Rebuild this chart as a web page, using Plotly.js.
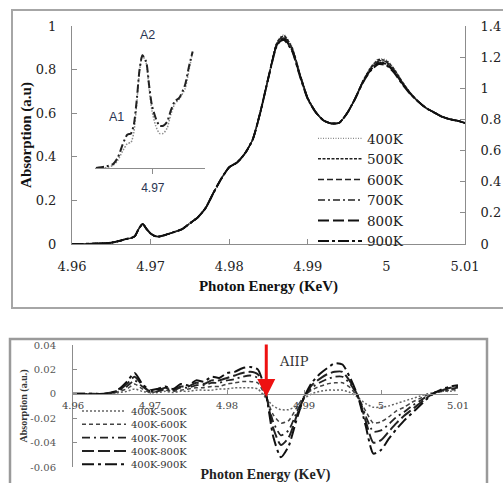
<!DOCTYPE html>
<html><head><meta charset="utf-8">
<script src="https://cdn.plot.ly/plotly-3.0.1.min.js"></script>
<style>html,body{margin:0;padding:0;background:#fff;} #chart{width:503px;height:483px;}</style>
</head><body><div id="chart"></div>
<script>
// ---------- top chart: XANES spectra ----------
const temps = ['400K','500K','600K','700K','800K','900K'];
const energyTop = [4.960,4.961,4.962,4.963,4.964,4.965,4.966,4.967,4.9675,4.968,4.9685,4.969,4.9695,4.970,4.9705,4.971,4.972,4.973,4.974,4.975,4.976,4.977,4.978,4.979,4.980,4.981,4.982,4.983,4.984,4.985,4.986,4.9865,4.987,4.988,4.989,4.990,4.991,4.992,4.993,4.994,4.995,4.996,4.997,4.998,4.999,5.000,5.001,5.002,5.003,5.004,5.005,5.006,5.007,5.008,5.009,5.010];
const abs400 = [0.000,0.000,0.001,0.002,0.003,0.006,0.014,0.024,0.027,0.036,0.070,0.092,0.068,0.048,0.037,0.034,0.043,0.055,0.068,0.095,0.122,0.165,0.235,0.300,0.352,0.374,0.415,0.480,0.610,0.765,0.920,0.950,0.960,0.905,0.782,0.671,0.605,0.567,0.553,0.556,0.600,0.665,0.748,0.813,0.850,0.845,0.805,0.747,0.696,0.655,0.625,0.605,0.585,0.573,0.566,0.555];
const abs500 = [0.000,0.000,0.001,0.002,0.003,0.006,0.014,0.024,0.027,0.036,0.070,0.092,0.068,0.048,0.037,0.034,0.043,0.055,0.068,0.095,0.122,0.165,0.235,0.300,0.352,0.374,0.415,0.480,0.610,0.765,0.917,0.946,0.955,0.901,0.780,0.670,0.605,0.567,0.553,0.556,0.600,0.665,0.746,0.809,0.845,0.840,0.801,0.745,0.695,0.655,0.625,0.605,0.585,0.573,0.566,0.555];
const abs600 = [0.000,0.000,0.001,0.002,0.003,0.006,0.014,0.024,0.027,0.036,0.070,0.092,0.068,0.048,0.037,0.034,0.043,0.055,0.068,0.095,0.122,0.165,0.235,0.300,0.352,0.374,0.415,0.480,0.610,0.765,0.914,0.942,0.950,0.897,0.777,0.669,0.605,0.567,0.553,0.556,0.600,0.665,0.745,0.806,0.840,0.835,0.797,0.742,0.694,0.655,0.625,0.605,0.585,0.573,0.566,0.555];
const abs700 = [0.000,0.000,0.001,0.002,0.003,0.006,0.014,0.024,0.027,0.036,0.070,0.092,0.068,0.048,0.037,0.034,0.043,0.055,0.068,0.095,0.122,0.165,0.235,0.300,0.352,0.374,0.415,0.480,0.610,0.765,0.911,0.938,0.945,0.893,0.775,0.667,0.605,0.567,0.553,0.556,0.600,0.665,0.743,0.802,0.835,0.830,0.793,0.740,0.692,0.655,0.625,0.605,0.585,0.573,0.566,0.555];
const abs800 = [0.000,0.000,0.001,0.002,0.003,0.006,0.014,0.024,0.027,0.036,0.070,0.092,0.068,0.048,0.037,0.034,0.043,0.055,0.068,0.095,0.122,0.165,0.235,0.300,0.352,0.374,0.415,0.480,0.610,0.765,0.908,0.934,0.940,0.889,0.772,0.666,0.605,0.567,0.553,0.556,0.600,0.665,0.742,0.799,0.830,0.825,0.789,0.737,0.691,0.655,0.625,0.605,0.585,0.573,0.566,0.555];
const abs900 = [0.000,0.000,0.001,0.002,0.003,0.006,0.014,0.024,0.027,0.036,0.070,0.092,0.068,0.048,0.037,0.034,0.043,0.055,0.068,0.095,0.122,0.165,0.235,0.300,0.352,0.374,0.415,0.480,0.610,0.765,0.905,0.930,0.935,0.885,0.770,0.665,0.605,0.567,0.553,0.556,0.600,0.665,0.740,0.795,0.825,0.820,0.785,0.735,0.690,0.655,0.625,0.605,0.585,0.573,0.566,0.555];

// inset (pre-edge region)
const insetEnergy = [4.9640,4.9649,4.9658,4.9663,4.9668,4.9673,4.9677,4.9680,4.9683,4.9686,4.9689,4.9693,4.9696,4.9699,4.9703,4.9707,4.9711,4.9715,4.9719,4.9723,4.9728,4.9734,4.9738,4.9742];
const inset400 = [0.000,0.000,0.002,0.006,0.013,0.019,0.020,0.028,0.050,0.076,0.088,0.082,0.062,0.045,0.033,0.027,0.027,0.031,0.042,0.050,0.054,0.062,0.076,0.091];
const inset900 = [0.000,0.001,0.003,0.008,0.018,0.026,0.027,0.034,0.053,0.077,0.088,0.083,0.065,0.049,0.039,0.033,0.033,0.036,0.045,0.052,0.055,0.065,0.079,0.091];
const insetTickVals = [4.97];
const insetTickText = ['4.97'];

// ---------- bottom chart: difference spectra ----------
const diffNames = ['400K-500K','400K-600K','400K-700K','400K-800K','400K-900K'];
const energyDiff = [4.960,4.962,4.964,4.965,4.966,4.967,4.968,4.969,4.970,4.971,4.972,4.973,4.974,4.975,4.976,4.977,4.978,4.979,4.980,4.981,4.982,4.983,4.984,4.985,4.986,4.987,4.988,4.989,4.990,4.991,4.992,4.993,4.994,4.995,4.996,4.997,4.998,4.999,5.000,5.001,5.002,5.003,5.004,5.005,5.006,5.007,5.008,5.009,5.010];
const diff500 = [0,0,0,0.000,0.001,0.002,0.004,0.002,0.001,0.001,0.002,0.001,0.002,0.002,0.003,0.003,0.003,0.004,0.004,0.005,0.005,0.005,0.004,-0.003,-0.010,-0.013,-0.013,-0.010,-0.004,0.000,0.002,0.003,0.003,0.003,0.001,-0.003,-0.008,-0.011,-0.011,-0.010,-0.008,-0.006,-0.004,-0.002,0.000,0.001,0.002,0.002,0.003];
const diff600 = [0,0,0,0.000,0.002,0.004,0.008,0.004,0.001,0.002,0.003,0.002,0.003,0.004,0.005,0.005,0.006,0.006,0.008,0.009,0.010,0.010,0.009,-0.002,-0.017,-0.024,-0.022,-0.012,-0.002,0.003,0.006,0.008,0.009,0.009,0.005,-0.003,-0.014,-0.024,-0.023,-0.019,-0.014,-0.011,-0.007,-0.004,-0.001,0.001,0.002,0.003,0.004];
const diff700 = [0,0,0,0.001,0.003,0.006,0.011,0.006,0.002,0.002,0.004,0.003,0.005,0.005,0.007,0.007,0.009,0.009,0.011,0.012,0.014,0.015,0.013,0.000,-0.023,-0.034,-0.030,-0.016,-0.003,0.005,0.009,0.012,0.014,0.014,0.008,-0.002,-0.018,-0.031,-0.030,-0.025,-0.019,-0.015,-0.010,-0.006,-0.002,0.001,0.003,0.004,0.005];
const diff800 = [0,0,0,0.001,0.003,0.008,0.014,0.007,0.002,0.003,0.005,0.003,0.006,0.006,0.009,0.008,0.011,0.011,0.013,0.015,0.017,0.018,0.016,0.001,-0.028,-0.042,-0.036,-0.019,-0.003,0.007,0.012,0.016,0.018,0.018,0.010,-0.002,-0.022,-0.040,-0.038,-0.031,-0.024,-0.018,-0.013,-0.008,-0.003,0.001,0.003,0.005,0.006];
const diff900 = [0,0,0,0.001,0.004,0.010,0.017,0.008,0.003,0.004,0.006,0.004,0.008,0.007,0.011,0.010,0.014,0.013,0.017,0.018,0.021,0.022,0.020,0.002,-0.035,-0.052,-0.043,-0.022,-0.003,0.009,0.016,0.021,0.025,0.024,0.013,-0.002,-0.026,-0.049,-0.046,-0.037,-0.029,-0.022,-0.016,-0.010,-0.004,0.001,0.004,0.006,0.007];

// tick labels
const xTickVals = [4.96,4.97,4.98,4.99,5.00,5.01];
const xTickText = ['4.96','4.97','4.98','4.99','5','5.01'];
const yLeftVals = [0,0.2,0.4,0.6,0.8,1];
const yLeftText = ['0','0.2','0.4','0.6','0.8','1'];
const yRightVals = [0,0.2,0.4,0.6,0.8,1,1.2,1.4];
const yRightText = ['0','0.2','0.4','0.6','0.8','1','1.2','1.4'];
const diffTickVals = [-0.06,-0.04,-0.02,0,0.02,0.04];
const diffTickText = ['-0.06','-0.04','-0.02','0','0.02','0.04'];

// ---------- styles ----------
const topSeries = [abs400, abs500, abs600, abs700, abs800, abs900];
const topStyles = [
  {color:'#8a8a8a', width:1.2, dash:'1px,1.5px'},
  {color:'#222', width:1.5, dash:'3px,1.5px'},
  {color:'#222', width:1.5, dash:'6px,3px'},
  {color:'#222', width:1.5, dash:'7px,3px,2px,3px'},
  {color:'#111', width:1.8, dash:'11px,4px'},
  {color:'#111', width:2, dash:'11px,3px,3px,3px'}
];
const diffSeries = [diff500, diff600, diff700, diff800, diff900];
const diffStyles = [
  {color:'#666', width:1.5, dash:'2px,2px'},
  {color:'#444', width:1.5, dash:'4px,3px'},
  {color:'#222', width:1.8, dash:'8px,4px,2px,4px'},
  {color:'#222', width:2, dash:'12px,4px'},
  {color:'#111', width:2, dash:'12px,4px,3px,4px'}
];

const W = 503, H = 483;
const px = v => v / W;
const py = v => 1 - v / H;
const serif = 'DejaVu Serif';
const titleFont = {family:'Liberation Serif', size:15, color:'#111', weight:'bold'};
const axisGray = '#8c8c8c';
const legend2RowStep = 13.3;   // compact row spacing of the lower legend
const legend2FirstRow = 411;   // pixel centre of its first row

const traces = [];
temps.forEach((t, i) => {
  traces.push({x: energyTop, y: topSeries[i], type:'scatter', mode:'lines', name:t,
    line: Object.assign({shape:'spline', smoothing:0.6}, topStyles[i]),
    xaxis:'x', yaxis:'y', legend:'legend', hoverinfo:'skip'});
});
traces.push({x:[], y:[], type:'scatter', mode:'lines', xaxis:'x', yaxis:'y2', showlegend:false, hoverinfo:'skip'});
traces.push({x: insetEnergy, y: inset400, type:'scatter', mode:'lines', name:'400K inset', showlegend:false,
  line:{color:'#8a8a8a', width:1.5, dash:'1.5px,1.5px', shape:'spline', smoothing:0.6}, xaxis:'x3', yaxis:'y3', hoverinfo:'skip'});
traces.push({x: insetEnergy, y: inset900, type:'scatter', mode:'lines', name:'900K inset', showlegend:false,
  line:{color:'#222', width:2, dash:'8px,3px,2px,3px', shape:'spline', smoothing:0.6}, xaxis:'x3', yaxis:'y3', hoverinfo:'skip'});
diffNames.forEach((n, i) => {
  traces.push({x: energyDiff, y: diffSeries[i], type:'scatter', mode:'lines', name:n,
    line: Object.assign({shape:'spline', smoothing:0.6}, diffStyles[i]),
    xaxis:'x4', yaxis:'y4', legend:'legend2', hoverinfo:'skip'});
});

const layout = {
  width: W, height: H,
  margin: {l:0, r:0, t:0, b:0, autoexpand:false},
  paper_bgcolor:'#ffffff', plot_bgcolor:'rgba(0,0,0,0)',
  showlegend: true,
  xaxis: {domain:[px(72), px(465)], range:[4.96, 5.01], anchor:'y',
    showline:true, linecolor:axisGray, linewidth:1, mirror:false,
    ticks:'inside', ticklen:5, tickcolor:axisGray, tickvals:xTickVals, ticktext:xTickText,
    tickfont:{family:serif, size:13, color:'#222'}, ticklabelstandoff:10,
    showgrid:false, zeroline:false,
    title:{text:'Photon Energy (KeV)', font:titleFont, standoff:7}},
  yaxis: {domain:[py(244), py(26)], range:[0, 1], anchor:'x',
    showline:true, linecolor:axisGray, ticks:'inside', ticklen:5, tickcolor:axisGray,
    tickvals:yLeftVals, ticktext:yLeftText, tickfont:{family:serif, size:13, color:'#222'},
    ticklabelstandoff:12, showgrid:false, zeroline:false,
    title:{text:'Absorption (a.u)', font:titleFont, standoff:0}},
  yaxis2: {overlaying:'y', side:'right', anchor:'x', range:[0, 1.4],
    showline:true, linecolor:axisGray, ticks:'inside', ticklen:5, tickcolor:axisGray,
    tickvals:yRightVals, ticktext:yRightText, tickfont:{family:serif, size:13, color:'#222'},
    ticklabelstandoff:12, showgrid:false, zeroline:false},
  xaxis3: {domain:[px(95), px(205)], range:[4.9639, 4.9755], anchor:'y3',
    showline:true, linecolor:axisGray, ticks:'outside', ticklen:5, tickcolor:axisGray,
    tickvals:insetTickVals, ticktext:insetTickText,
    tickfont:{family:'Liberation Sans', size:12, color:'#2a3552'}, ticklabelstandoff:4,
    showgrid:false, zeroline:false},
  yaxis3: {domain:[py(168), py(40)], range:[0, 0.1], anchor:'x3', visible:false, showgrid:false, zeroline:false},
  xaxis4: {domain:[px(73), px(458)], range:[4.96, 5.01], anchor:'free', position: py(393.8),
    showline:true, linecolor:axisGray, ticks:'inside', ticklen:4, tickcolor:axisGray,
    tickvals:xTickVals, ticktext:xTickText, tickfont:{family:serif, size:10, color:'#444'},
    ticklabelstandoff:2, showgrid:false, zeroline:false,
    title:{text:'Photon Energy (KeV)', font:{family:'Liberation Serif', size:14, color:'#222', weight:'bold'}, standoff:63}},
  yaxis4: {domain:[py(467), py(345)], range:[-0.06, 0.04], anchor:'x4',
    showline:true, linecolor:axisGray, ticks:'inside', ticklen:4, tickcolor:axisGray,
    tickvals:diffTickVals, ticktext:diffTickText, tickfont:{family:serif, size:10, color:'#555'},
    ticklabelstandoff:14, showgrid:false, zeroline:false,
    title:{text:'Absorption (a.u.)', font:{family:'Liberation Serif', size:10, color:'#333', weight:'bold'}, standoff:0}},
  legend: {x: px(313), y: py(123), xanchor:'left', yanchor:'top', bgcolor:'rgba(0,0,0,0)',
    borderwidth:0, font:{family:serif, size:13.5, color:'#222'}, itemwidth:44, tracegroupgap:0},
  legend2: {x: px(77), y: py(380), xanchor:'left', yanchor:'top', bgcolor:'rgba(0,0,0,0)',
    borderwidth:0, font:{family:serif, size:10, color:'#333'}, itemwidth:44, tracegroupgap:0},
  shapes: [
    {type:'rect', xref:'paper', yref:'paper', x0:px(12), x1:1.02, y0:py(308), y1:py(10),
      line:{color:'#a6a6a6', width:2}, fillcolor:'rgba(0,0,0,0)', layer:'below'},
    {type:'rect', xref:'paper', yref:'paper', x0:px(10), x1:px(487), y0:-0.05, y1:py(339),
      line:{color:'#9a9a9a', width:2.5}, fillcolor:'rgba(0,0,0,0)', layer:'below'}
  ],
  annotations: [
    {xref:'paper', yref:'paper', x:px(147), y:py(35), xanchor:'center', yanchor:'middle', text:'A2', showarrow:false,
      font:{family:'Liberation Sans', size:12.5, color:'#2a3552'}},
    {xref:'paper', yref:'paper', x:px(116), y:py(117), xanchor:'center', yanchor:'middle', text:'A1', showarrow:false,
      font:{family:'Liberation Sans', size:12.5, color:'#2a3552'}},
    {xref:'x4', yref:'y4', x:4.9851, y:-0.0026, ax:0, ay:-54, text:'', showarrow:true,
      arrowcolor:'#ee1111', arrowwidth:3, arrowhead:2, arrowsize:1.2},
    {xref:'paper', yref:'paper', x:px(294), y:py(361), xanchor:'center', yanchor:'middle', text:'AIIP', showarrow:false,
      font:{family:serif, size:13, color:'#333'}}
  ]
};

function parseTranslate(el) {
  const m = /translate\(\s*([-\d.e]+)[\s,]+([-\d.e]+)\s*\)/.exec(el.getAttribute('transform') || '');
  return m ? [parseFloat(m[1]), parseFloat(m[2])] : [0, 0];
}

Plotly.newPlot('chart', traces, layout, {staticPlot:true, displayModeBar:false}).then(gd => {
  // compact the rows of the lower legend, as in the original figure
  const leg = gd.querySelector('g.legend2');
  if (!leg) return;
  const items = Array.from(leg.querySelectorAll('g.traces'));
  if (!items.length) return;
  const p0 = parseTranslate(items[0]);
  items.forEach((el, i) => el.setAttribute('transform', 'translate(' + p0[0] + ',' + (p0[1] + i * legend2RowStep) + ')'));
  const txt = items[0].querySelector('text.legendtext');
  const box = (txt || items[0]).getBoundingClientRect();
  const cy = box.top + box.height / 2;
  const lp = parseTranslate(leg);
  leg.setAttribute('transform', 'translate(' + lp[0] + ',' + (lp[1] + legend2FirstRow - cy) + ')');
});
</script></body></html>
